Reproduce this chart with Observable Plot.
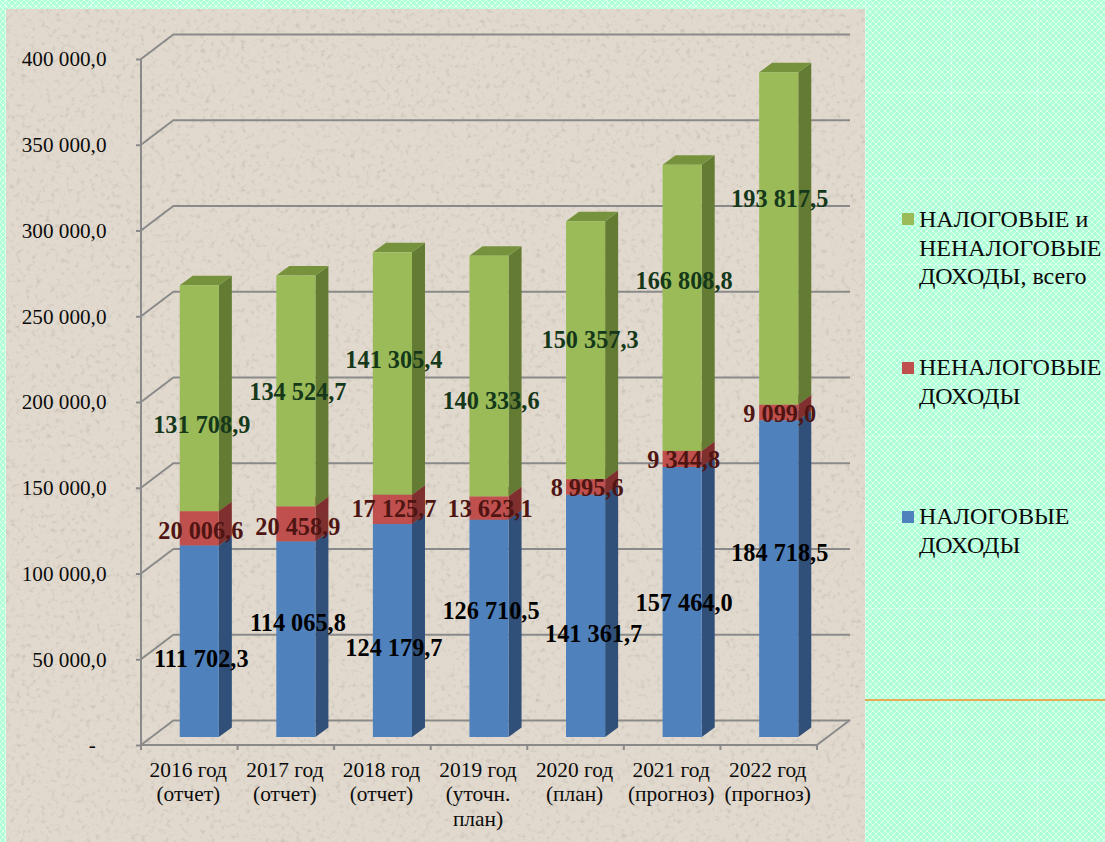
<!DOCTYPE html>
<html lang="ru">
<head>
<meta charset="utf-8">
<script src="https://cdn.jsdelivr.net/npm/d3@7"></script>
<script src="https://cdn.jsdelivr.net/npm/@observablehq/plot@0.6"></script>
<style>
html,body{margin:0;padding:0;width:1105px;height:842px;overflow:hidden}
body{position:relative;font-family:"Liberation Serif",serif;color:#0b0b0b;
  background-color:#adffd5;
  background-image:
    linear-gradient(to right,rgba(255,255,255,.3) 1px,transparent 1px),
    linear-gradient(to bottom,rgba(255,255,255,.3) 1px,transparent 1px),
    url("data:image/svg+xml,%3Csvg xmlns='http://www.w3.org/2000/svg' width='6' height='6'%3E%3Cpath d='M0 0L6 6M6 0L0 6' stroke='%23dcfff0' stroke-width='1'/%3E%3C/svg%3E");
  background-size:86px 86px,86px 86px,6px 6px;
  background-position:5px 6px,5px 6px,0 0}
#panel{position:absolute;left:6px;top:9px;width:859px;height:833px;background-color:#e1d9cd;overflow:hidden}
#panel svg{position:absolute;left:0;top:0}
#rule{position:absolute;left:865px;right:0;top:699px;height:2px;background:#e6ad55}
#chart{position:absolute;left:0;top:0}
#legend{position:absolute;left:902px;top:0;font-size:24px;line-height:28.5px}
#legend .item{position:absolute;left:0;white-space:pre}
#legend .sw{position:absolute;left:0;top:9px;width:12px;height:12px}
#legend .tx{position:absolute;left:17px;top:0}
</style>
</head>
<body>
<div id="panel">
<svg width="859" height="833" xmlns="http://www.w3.org/2000/svg">
<filter id="sp" x="0" y="0" width="100%" height="100%">
<feTurbulence type="fractalNoise" baseFrequency="0.2" numOctaves="3" seed="7"/>
<feColorMatrix values="0 0 0 0 0.50  0 0 0 0 0.46  0 0 0 0 0.40  1.7 0 0 0 -0.93"/>
</filter>
<rect width="859" height="833" filter="url(#sp)"/>
</svg>
</div>
<div id="rule"></div>
<div id="chart"></div>
<div id="legend"></div>
<script>
const categories = ["2016 год\n(отчет)","2017 год\n(отчет)","2018 год\n(отчет)","2019 год\n(уточн.\nплан)","2020 год\n(план)","2021 год\n(прогноз)","2022 год\n(прогноз)"];
const seriesNames = ["НАЛОГОВЫЕ ДОХОДЫ","НЕНАЛОГОВЫЕ ДОХОДЫ","НАЛОГОВЫЕ и НЕНАЛОГОВЫЕ ДОХОДЫ, всего"];
const taxRevenue = [111702.3,114065.8,124179.7,126710.5,141361.7,157464.0,184718.5];
const nonTaxRevenue = [20006.6,20458.9,17125.7,13623.1,8995.6,9344.8,9099.0];
const totalRevenue = [131708.9,134524.7,141305.4,140333.6,150357.3,166808.8,193817.5];
const yTickValues = [0,50000,100000,150000,200000,250000,300000,350000,400000];
const yTickLabels = ["-\u00a0\u00a0","50 000,0","100 000,0","150 000,0","200 000,0","250 000,0","300 000,0","350 000,0","400 000,0"];

const frontColors = ["#4f81bd","#c0504d","#9bbb59"];
const sideColors = ["#30507a","#7f2f2e","#647b33"];
const topColors = ["#3a6190","#96393a","#76923c"];
const labelColors = ["#000000","#4f1513","#15381a"];

const seriesValues = [taxRevenue, nonTaxRevenue, totalRevenue];
const rows = seriesValues.flatMap((vals, s) => vals.map((v, i) => ({category: categories[i], series: seriesNames[s], s, i, value: v})));

const labelRows = rows.map(r => {
  const below = seriesValues.slice(0, r.s).reduce((a, arr) => a + arr[r.i], 0);
  return {...r, mid: below + r.value / 2};
});
const fmt = v => {
  const [a, b] = v.toFixed(1).split(".");
  return a.replace(/\B(?=(\d{3})+$)/g, " ") + "," + b;
};

// bar recess on the floor and bar / wall depth
const recess = [10, -8], barDepth = [13, -9.5], wallDepth = [33, -25];
// hand placement of the labels, as in the source chart, series by series
const labelDx = [[1.5,1.5,1,1.5,7.5,1.5,0.5],[1,1.5,1,0.5,1,1,0.5],[2,1.5,1,1.5,4,1.5,0.5]];
const labelDy = [[18,-16,17.5,-18,18,1,-26],[2,3,-1,1,1,1,1],[27,1,-13.5,25,-10,-27,-40]];

const ns = "http://www.w3.org/2000/svg";
const poly = (pts, fill) => {
  const p = document.createElementNS(ns, "polygon");
  p.setAttribute("points", pts.map(q => q.join(",")).join(" "));
  p.setAttribute("fill", fill);
  return p;
};
const seg = (g, d, w = 2, c = "#8a8a8a") => {
  const p = document.createElementNS(ns, "path");
  p.setAttribute("d", d); p.setAttribute("fill", "none");
  p.setAttribute("stroke", c); p.setAttribute("stroke-width", w);
  g.appendChild(p);
};

// side and top faces of each stacked segment, from the positioned stack values
function depthFaces(index, scales, values) {
  const g = document.createElementNS(ns, "g");
  const bw = scales.x.bandwidth();
  const [rx, ry] = recess, [dx, dy] = barDepth;
  for (const i of index) {
    const r = rows[i];
    const xl = values.x[i] + rx, xr = xl + bw;
    const yb = values.y1[i] + ry, yt = values.y2[i] + ry;
    g.appendChild(poly([[xr,yb],[xr+dx,yb+dy],[xr+dx,yt+dy],[xr,yt]], sideColors[r.s]));
    g.appendChild(poly([[xl,yt],[xr,yt],[xr+dx,yt+dy],[xl+dx,yt+dy]], topColors[r.s]));
  }
  return g;
}

// the chart box: wall diagonals, left axis, floor line and boundary ticks
function chartBox(index, scales) {
  const g = document.createElementNS(ns, "g");
  const y = scales.y, x = scales.x, bw = x.bandwidth(), step = x.step();
  const off = (step - bw) / 2;
  const [wx, wy] = wallDepth;
  const left = x(categories[0]) - off;
  const right = x(categories[categories.length - 1]) + bw + off;
  const y0 = y(yTickValues[0]), yTop = y(yTickValues[yTickValues.length - 1]);
  for (const t of yTickValues) seg(g, `M${left},${y(t)}L${left+wx},${y(t)+wy}`);
  seg(g, `M${right},${y0}L${right+wx},${y0+wy}`);
  seg(g, `M${left},${yTop}V${y0}`);
  seg(g, `M${left},${y0}H${right}`);
  categories.forEach(c => seg(g, `M${x(c)-off},${y0}v5`));
  seg(g, `M${right},${y0}v5`);
  return g;
}

const face = {fontFamily: "Liberation Serif, serif"};
const chart = Plot.plot({
  width: 1105, height: 842,
  marginLeft: 141, marginRight: 288, marginTop: 59, marginBottom: 97,
  style: {background: "transparent", fontFamily: "Liberation Serif, serif", fontSize: "21px", color: "#0b0b0b"},
  x: {type: "band", domain: categories, paddingInner: 0.595, paddingOuter: 0.2975, align: 0.5, round: false, axis: null, label: null},
  y: {domain: [0, 400000], axis: null, label: null},
  color: {domain: seriesNames, range: frontColors},
  marks: [
    Plot.ruleY(yTickValues, {y: d => d, dx: wallDepth[0], dy: wallDepth[1], stroke: "#8a8a8a", strokeWidth: 2}),
    Plot.ruleY(yTickValues, {y: d => d, render: chartBox}),
    Plot.axisY(yTickValues, {
      anchor: "left", label: null, tickSize: 5, tickPadding: 30, stroke: "#8a8a8a", strokeWidth: 2,
      tickFormat: d => yTickLabels[yTickValues.indexOf(d)],
      fontSize: 21.2, fill: "#0b0b0b", ...face
    }),
    Plot.axisX(categories, {
      anchor: "bottom", label: null, tickSize: 0, tickPadding: 14, lineHeight: 1.145, dx: -1.5,
      fontSize: 21.4, fill: "#0b0b0b", ...face
    }),
    Plot.barY(rows, Plot.stackY({x: "category", y: "value", fill: "series", render: depthFaces})),
    Plot.barY(rows, Plot.stackY({x: "category", y: "value", fill: "series", dx: recess[0], dy: recess[1]})),
    ...labelRows.map(r => Plot.text([r], {
      x: "category", y: "mid", text: d => fmt(d.value),
      dx: recess[0] + labelDx[r.s][r.i], dy: recess[1] + labelDy[r.s][r.i],
      fill: labelColors[r.s], fontWeight: "bold", fontSize: 24.3, ...face
    }))
  ]
});
document.getElementById("chart").appendChild(chart);

// legend, top entry first, as in the source chart
const legendLines = [
  {s: 2, top: 205, text: "НАЛОГОВЫЕ и\nНЕНАЛОГОВЫЕ\nДОХОДЫ, всего"},
  {s: 1, top: 353, text: "НЕНАЛОГОВЫЕ\nДОХОДЫ"},
  {s: 0, top: 502, text: "НАЛОГОВЫЕ\nДОХОДЫ"}
];
const legend = document.getElementById("legend");
for (const l of legendLines) {
  const it = document.createElement("div");
  it.className = "item"; it.style.top = l.top + "px";
  const sw = document.createElement("span");
  sw.className = "sw"; sw.style.background = frontColors[l.s];
  sw.style.top = (l.s === 2 ? 8 : 9) + "px";
  const tx = document.createElement("span");
  tx.className = "tx"; tx.textContent = l.text;
  it.append(sw, tx);
  legend.appendChild(it);
}
</script>
</body>
</html>
